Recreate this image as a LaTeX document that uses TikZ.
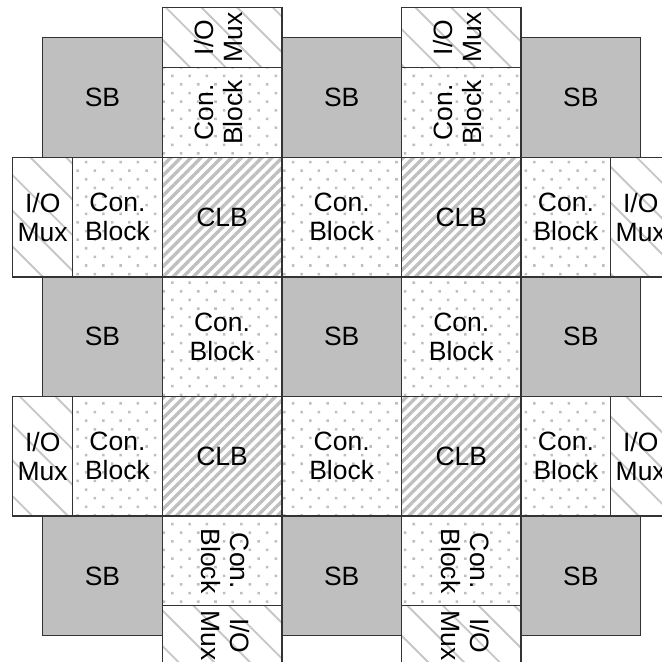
\documentclass[tikz,border=0pt]{standalone}
\usepackage{fontspec}
\setsansfont{Liberation Sans}
\usetikzlibrary{patterns.meta}
\tikzset{
  tile/.style={draw=black!80, line width=0.6pt, inner sep=0pt, align=center,
    font=\sffamily\fontsize{12.6}{13.8}\selectfont,
    minimum width=2cm, minimum height=2cm},
  sbox/.style={tile, fill=gray!50},
  clb/.style={tile, pattern color=gray!50,
    pattern={Lines[angle=45, distance=3.4pt, line width=1.6pt]}},
  conblock/.style={tile, pattern color=gray!50,
    pattern={Dots[angle=45, distance=5.8pt, radius=0.85pt]}},
  iomux/.style={tile, pattern color=gray!45,
    pattern={Lines[angle=-45, distance=12pt, line width=0.9pt]}},
  narrow/.style={minimum width=#1},
  short/.style={minimum height=#1},
}
\newcommand{\uptext}[1]{\rotatebox{90}{\begin{tabular}{@{}c@{}}#1\end{tabular}}}
\newcommand{\downtext}[1]{\rotatebox{-90}{\begin{tabular}{@{}c@{}}#1\end{tabular}}}

\begin{document}
\begin{tikzpicture}[x=2cm, y=2cm]
  \useasboundingbox (-0.357,0.315) rectangle (5.178,-5.22);
  \clip (-0.357,0.315) rectangle (5.178,-5.22);

  % switch boxes
  \foreach \c in {0,2,4} {
    \foreach \r in {0,2,4} {
      \node[sbox] (sb-\c-\r) at (\c+0.5,-\r-0.5) {SB};
    }
  }

  % logic blocks
  \foreach \c in {1,3} {
    \foreach \r in {1,3} {
      \node[clb] (clb-\c-\r) at (\c+0.5,-\r-0.5) {CLB};
    }
  }

  % inner connection blocks
  \foreach \c/\r in {1/2,3/2,2/1,2/3} {
    \node[conblock] (cb-\c-\r) at (\c+0.5,-\r-0.5) {Con.\\Block};
  }

  % connection blocks and I/O muxes on the edges
  \foreach \r in {1,3} {
    \node[conblock, narrow=1.5cm] (cb-0-\r) at (0.625,-\r-0.5) {Con.\\Block};
    \node[conblock, narrow=1.5cm] (cb-4-\r) at (4.375,-\r-0.5) {Con.\\Block};
    \node[iomux, narrow=1cm] (io-l-\r) at (0,-\r-0.5) {I/O\\Mux};
    \node[iomux, narrow=1cm] (io-r-\r) at (5,-\r-0.5) {I/O\\Mux};
  }
  \foreach \c in {1,3} {
    \node[conblock, short=1.5cm] (cb-\c-0) at (\c+0.5,-0.625) {\uptext{Con.\\Block}};
    \node[conblock, short=1.5cm] (cb-\c-4) at (\c+0.5,-4.375) {\downtext{Con.\\Block}};
    \node[iomux, short=1cm] (io-t-\c) at (\c+0.5,0) {\uptext{I/O\\Mux}};
    \node[iomux, short=1cm] (io-b-\c) at (\c+0.5,-5) {\downtext{I/O\\Mux}};
  }
\end{tikzpicture}
\end{document}
